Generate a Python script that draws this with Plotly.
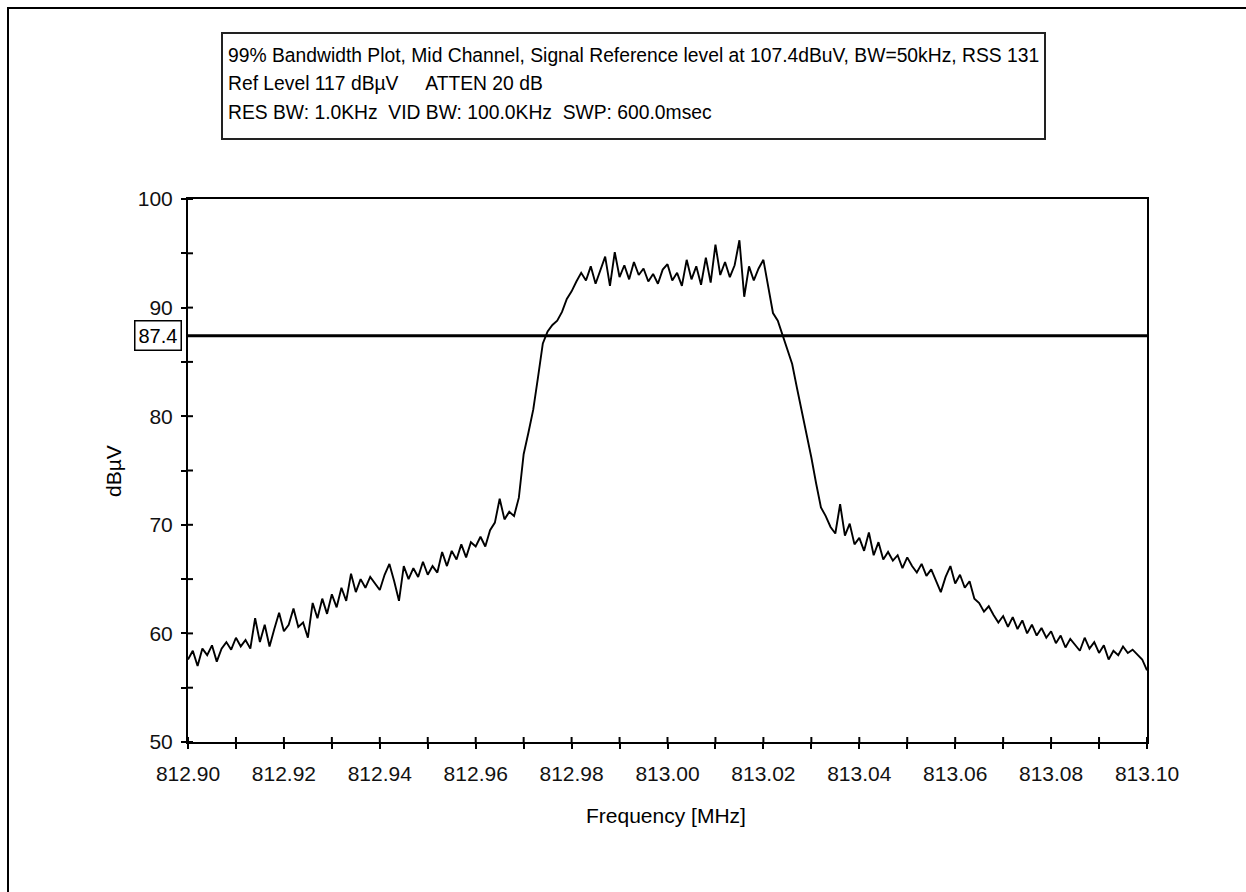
import plotly.graph_objects as go

# ---- spectrum trace (dBuV), one sample every 1 kHz from 812.900 MHz ----
FREQ_START_MHZ = 812.900
FREQ_STEP_MHZ = 0.001
LEVEL_DBUV = [
    57.6, 58.4, 57.0, 58.6, 58.0, 58.9, 57.4, 58.6, 59.2, 58.5,
    59.6, 58.8, 59.4, 58.6, 61.4, 59.2, 60.8, 58.8, 60.4, 61.9,
    60.2, 60.8, 62.3, 60.6, 61.0, 59.6, 62.8, 61.4, 63.2, 61.8,
    63.6, 62.4, 64.2, 63.0, 65.5, 63.8, 65.0, 64.2, 65.2, 64.6,
    64.0, 65.4, 66.4, 64.8, 63.0, 66.2, 65.0, 66.0, 65.2, 66.6,
    65.4, 66.2, 65.6, 67.5, 66.2, 67.6, 66.8, 68.2, 67.0, 68.4,
    68.0, 68.9, 68.0, 69.5, 70.2, 72.4, 70.5, 71.2, 70.8, 72.5,
    76.5, 78.5, 80.6, 83.6, 86.7, 87.8, 88.4, 88.8, 89.6, 90.8,
    91.5, 92.4, 93.2,
    92.5, 93.8, 92.2, 93.5, 94.7, 92.0, 95.1, 92.8, 93.9, 92.6,
    94.2, 93.0, 93.6, 92.4, 93.1, 92.2, 93.5, 94.0, 92.5, 93.2,
    92.0, 94.4, 92.6, 93.8, 92.1, 94.6, 92.3, 95.8, 93.0, 94.2,
    92.8, 93.9, 96.2, 91.0, 93.8, 92.5, 93.6, 94.4, 91.8,
    89.5, 88.8, 87.5, 86.0, 84.8, 82.6, 80.5, 78.5, 76.2, 73.8,
    71.6, 70.8, 69.8, 69.2, 71.9, 69.0, 70.1, 68.2, 68.8, 67.6,
    69.3, 67.2, 68.4, 66.8, 67.5, 66.7, 67.2, 66.0, 67.0, 66.2,
    65.6, 66.4, 65.3, 65.9, 64.8, 63.8, 65.2, 66.2, 64.6, 65.4,
    64.2, 64.8, 63.2, 62.8, 62.0, 62.5, 61.7, 61.0, 61.6, 60.6,
    61.5, 60.4, 61.2, 60.0, 60.8, 59.8, 60.5, 59.6, 60.2, 59.1,
    59.8, 58.7, 59.5, 59.0, 58.4, 59.6, 58.6, 59.2, 58.2, 58.9,
    57.6, 58.4, 58.0, 58.8, 58.2, 58.5, 58.0, 57.6, 56.6,
]
FREQ_MHZ = [round(FREQ_START_MHZ + i * FREQ_STEP_MHZ, 3) for i in range(len(LEVEL_DBUV))]

# 99 % bandwidth reference level
REF_LEVEL_DBUV = 87.4
REF_LABEL = "87.4"

# axes
X_RANGE = [812.90, 813.10]
Y_RANGE = [50, 100]
X_LABEL_VALUES = [812.90, 812.92, 812.94, 812.96, 812.98, 813.00,
                  813.02, 813.04, 813.06, 813.08, 813.10]
X_LABEL_TEXT = ["812.90", "812.92", "812.94", "812.96", "812.98", "813.00",
                "813.02", "813.04", "813.06", "813.08", "813.10"]
X_TICK_VALUES = [812.90, 812.91, 812.92, 812.93, 812.94, 812.95, 812.96,
                 812.97, 812.98, 812.99, 813.00, 813.01, 813.02, 813.03,
                 813.04, 813.05, 813.06, 813.07, 813.08, 813.09, 813.10]
Y_LABEL_VALUES = [50, 60, 70, 80, 90, 100]
Y_TICK_VALUES = [50, 55, 60, 65, 70, 75, 80, 85, 90, 95, 100]
X_TITLE = "Frequency [MHz]"
Y_TITLE = "dBµV"

HEADER_LINES = [
    "99% Bandwidth Plot, Mid Channel, Signal Reference level at 107.4dBuV, BW=50kHz, RSS 131",
    "Ref Level 117 dBµV &nbsp;&nbsp;&nbsp;&nbsp;ATTEN 20 dB",
    "RES BW: 1.0KHz &nbsp;VID BW: 100.0KHz &nbsp;SWP: 600.0msec",
]

# ---- page geometry (pixels) ----
W, H = 1246, 892
PLOT_L, PLOT_R, PLOT_T, PLOT_B = 188, 1147, 199, 742
PW, PH = PLOT_R - PLOT_L, PLOT_B - PLOT_T


def px_x(px):
    return (px - PLOT_L) / PW


def px_y(py):
    return (PLOT_B - py) / PH


FONT = "Liberation Sans, Arial, sans-serif"
TICK_HALF = 5

fig = go.Figure()
fig.add_trace(go.Scatter(
    x=FREQ_MHZ, y=LEVEL_DBUV, mode="lines",
    line=dict(color="black", width=1.9), showlegend=False, hoverinfo="x+y",
))

shapes = []
# outer frame of the page
shapes.append(dict(type="rect", xref="paper", yref="paper",
                   x0=px_x(8), x1=px_x(W + 20), y0=px_y(H + 20), y1=px_y(8),
                   line=dict(color="black", width=2), layer="below"))
# header box
shapes.append(dict(type="rect", xref="paper", yref="paper",
                   x0=px_x(222), x1=px_x(1045), y0=px_y(139), y1=px_y(33),
                   line=dict(color="#222", width=2), fillcolor="white"))
# reference level line
shapes.append(dict(type="line", xref="paper", yref="y", x0=0, x1=1,
                   y0=REF_LEVEL_DBUV, y1=REF_LEVEL_DBUV,
                   line=dict(color="black", width=3)))
# inner halves of the crossing tick marks
for v in X_TICK_VALUES:
    shapes.append(dict(type="line", xref="x", yref="paper", x0=v, x1=v,
                       y0=0, y1=TICK_HALF / PH, line=dict(color="black", width=2)))
for v in Y_TICK_VALUES:
    shapes.append(dict(type="line", xref="paper", yref="y", x0=0, x1=TICK_HALF / PW,
                       y0=v, y1=v, line=dict(color="black", width=2)))

annotations = []
for text, cy in zip(HEADER_LINES, [56, 84, 112]):
    annotations.append(dict(text=text, xref="paper", yref="paper",
                            x=px_x(226), y=px_y(cy), xanchor="left", yanchor="middle",
                            showarrow=False, font=dict(family=FONT, size=19.3, color="black")))
annotations.append(dict(text=REF_LABEL, xref="paper", yref="y",
                        x=px_x(182), y=REF_LEVEL_DBUV, xanchor="right", yanchor="middle",
                        showarrow=False, bordercolor="black", borderwidth=1.5,
                        borderpad=3, bgcolor="white",
                        font=dict(family=FONT, size=20, color="black")))
annotations.append(dict(text=X_TITLE, xref="paper", yref="paper",
                        x=px_x(666), y=px_y(815), xanchor="center", yanchor="middle",
                        showarrow=False, font=dict(family=FONT, size=21, color="black")))
annotations.append(dict(text=Y_TITLE, xref="paper", yref="paper",
                        x=px_x(113), y=px_y(471), xanchor="center", yanchor="middle",
                        textangle=-90, showarrow=False,
                        font=dict(family=FONT, size=21, color="black")))

axis_common = dict(showgrid=False, zeroline=False, showline=True, linecolor="black",
                   linewidth=2, mirror=True, ticks="outside", ticklen=TICK_HALF,
                   tickwidth=2, tickcolor="black",
                   tickfont=dict(family=FONT, size=21, color="#111"))

fig.update_layout(
    width=W, height=H, autosize=False,
    margin=dict(l=PLOT_L, r=W - PLOT_R, t=PLOT_T, b=H - PLOT_B),
    paper_bgcolor="white", plot_bgcolor="white",
    xaxis=dict(range=X_RANGE, tickmode="array", tickvals=X_LABEL_VALUES,
               ticktext=X_LABEL_TEXT, ticklabelstandoff=7,
               minor=dict(tickmode="array", tickvals=X_TICK_VALUES, ticks="outside",
                          ticklen=TICK_HALF, tickwidth=2, tickcolor="black"),
               **axis_common),
    yaxis=dict(range=Y_RANGE, tickmode="array", tickvals=Y_LABEL_VALUES,
               ticklabelstandoff=4,
               minor=dict(tickmode="array", tickvals=Y_TICK_VALUES, ticks="outside",
                          ticklen=TICK_HALF, tickwidth=2, tickcolor="black"),
               **axis_common),
    shapes=shapes, annotations=annotations,
    showlegend=False,
)

fig.write_html("out.html")
